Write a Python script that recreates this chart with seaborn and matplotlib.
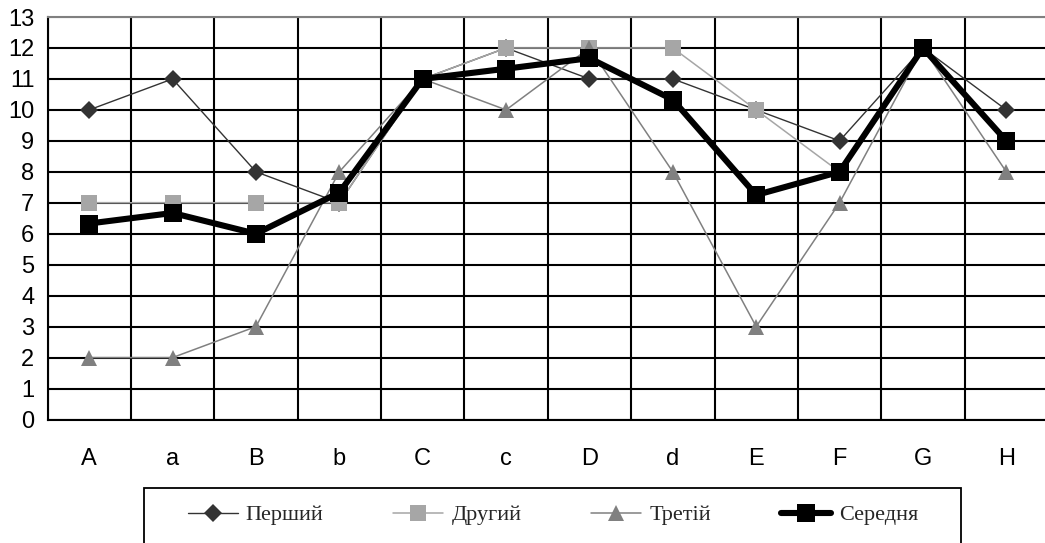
import numpy as np
import pandas as pd
import matplotlib
matplotlib.use("Agg")
import matplotlib.pyplot as plt
import seaborn as sns
from matplotlib.font_manager import FontProperties
from matplotlib.patches import Rectangle

# ---- data ----
categories = ["A", "a", "B", "b", "C", "c", "D", "d", "E", "F", "G", "H"]
pershyi = [10, 11, 8, 7, 11, 12, 11, 11, 10, 9, 12, 10]
druhyi = [7, 7, 7, 7, 11, 12, 12, 12, 10, 8, 12, 9]
tretii = [2, 2, 3, 8, 11, 10, 12, 8, 3, 7, 12, 8]
serednia = [6.33, 6.67, 6.0, 7.33, 11.0, 11.33, 11.67, 10.33, 7.25, 8.0, 12.0, 9.0]
series_names = ["Перший", "Другий", "Третій", "Середня"]
y_ticks = list(range(0, 14))

sns.set_style("white")
plt.rcParams["font.family"] = ["Liberation Sans", "DejaVu Sans"]

W, H = 1045, 543
fig = plt.figure(figsize=(W / 100, H / 100), dpi=100)
ax = fig.add_axes([47.5 / W, (H - 419.5) / H, 1000.5 / W, (419.5 - 17) / H])

pos = np.arange(len(categories))
df = pd.DataFrame({"pos": pos, "Перший": pershyi, "Другий": druhyi,
                   "Третій": tretii, "Середня": serednia})

styles = {
    "Перший": dict(color="#333333", lw=1.0, marker="D", ms=9.0, mfc="#333333"),
    "Другий": dict(color="#a6a6a6", lw=1.1, marker="s", ms=11, mfc="#a6a6a6"),
    "Третій": dict(color="#808080", lw=1.1, marker="^", ms=11, mfc="#808080"),
    "Середня": dict(color="#000000", lw=4.4, marker="s", ms=13.5, mfc="#000000"),
}
for name in series_names:
    st = styles[name]
    sns.lineplot(data=df, x="pos", y=name, ax=ax, color=st["color"],
                 linewidth=st["lw"], marker=st["marker"], markersize=st["ms"],
                 markerfacecolor=st["mfc"], markeredgewidth=0, label=name,
                 sort=False, solid_capstyle="round")

ax.set_xlim(-0.5, len(categories) - 0.5)
ax.set_ylim(0, 13)
ax.set_xlabel("")
ax.set_ylabel("")

# category labels at centres, tick marks and grid at boundaries
ax.set_xticks(pos)
ax.set_xticklabels(categories)
ax.set_xticks(np.arange(-0.5, len(categories)), minor=True)
ax.tick_params(axis="x", which="major", length=0, pad=20.5, labelsize=17, colors="black")
ax.tick_params(axis="x", which="minor", length=5.5, width=1.3, color="black", direction="out")
ax.set_yticks(y_ticks)
ax.tick_params(axis="y", which="major", length=5.5, width=1.3, color="black",
               direction="out", pad=4, labelsize=17, labelcolor="black")

ax.set_axisbelow(True)
ax.grid(True, axis="y", which="major", color="black", lw=1.5)
ax.grid(True, axis="x", which="minor", color="black", lw=1.5)
ax.grid(False, axis="x", which="major")
ax.yaxis.get_gridlines()[-1].set_color("#808080")

for side in ["left", "bottom"]:
    ax.spines[side].set_color("black")
    ax.spines[side].set_linewidth(1.5)
ax.spines["top"].set_color("#808080")
ax.spines["top"].set_linewidth(1.5)
ax.spines["right"].set_visible(False)

# legend below the axes
handles, labels = ax.get_legend_handles_labels()
ax.get_legend().remove()
fsz = 16
fpx = fsz * 100 / 72
fig.legend(handles, labels, loc="center", bbox_to_anchor=(553 / W, 1 - 515 / H),
           ncol=4, frameon=False, prop=FontProperties(family="Liberation Serif", size=fsz),
           handlelength=50 / fpx, handletextpad=8 / fpx, columnspacing=70 / fpx)
fig.add_artist(Rectangle((144 / W, -0.05), (961 - 144) / W, (H - 488) / H + 0.05,
                         transform=fig.transFigure, fill=False, edgecolor="black",
                         lw=1.3, clip_on=False))

fig.savefig("out.png", dpi=100)
